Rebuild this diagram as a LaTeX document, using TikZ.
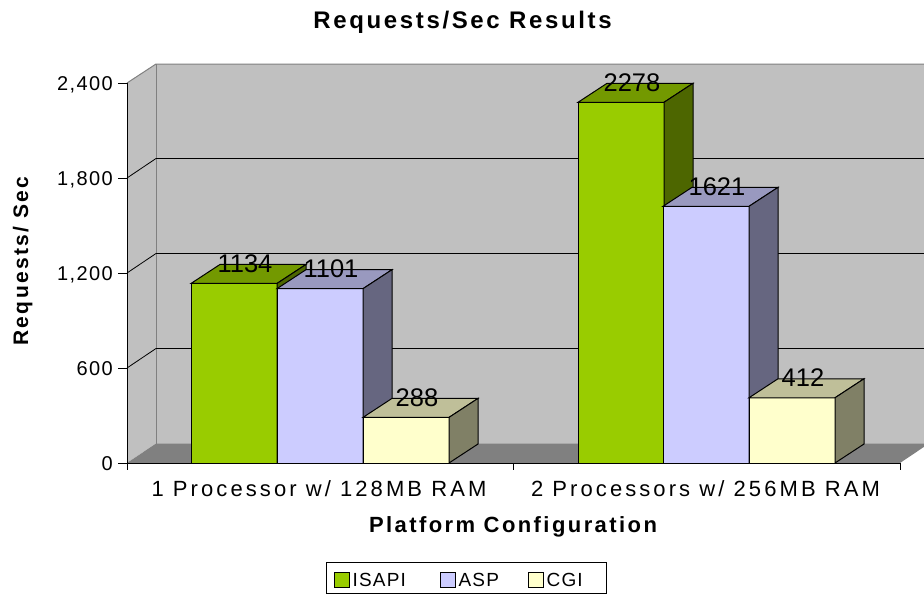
\documentclass[tikz,border=0pt]{standalone}
\usepackage{fontspec}
\setmainfont{Liberation Sans}
\newfontfamily\tickfont[LetterSpace=7]{Liberation Sans}
\newfontfamily\catfont[LetterSpace=14]{Liberation Sans}
\newfontfamily\headfont[LetterSpace=11]{Liberation Sans}
\newfontfamily\legfont[LetterSpace=6]{Liberation Sans}
\usetikzlibrary{positioning}
\definecolor{wallgray}{HTML}{C0C0C0}
\definecolor{floorgray}{HTML}{808080}
\definecolor{isapiF}{HTML}{99CC00}
\definecolor{isapiT}{HTML}{739900}
\definecolor{isapiS}{HTML}{4D6600}
\definecolor{aspF}{HTML}{CCCCFF}
\definecolor{aspT}{HTML}{9999BF}
\definecolor{aspS}{HTML}{666680}
\definecolor{cgiF}{HTML}{FFFFCC}
\definecolor{cgiT}{HTML}{BFBF99}
\definecolor{cgiS}{HTML}{808066}
\tikzstyle{barline}=[draw=black, line width=1pt]
\tikzstyle{grid line}=[black, line width=0.8pt]
\tikzstyle{wall edge}=[floorgray, line width=1pt]
\tikzstyle{axis line}=[black, line width=1pt]
\tikzstyle{tick label}=[anchor=east, inner sep=0pt, text height=14pt, text depth=0pt, font=\tickfont\fontsize{20}{24}\selectfont]
\tikzstyle{data label}=[inner sep=0pt, text height=18pt, text depth=0pt, font=\fontsize{25.5}{30}\selectfont]
\tikzstyle{cat label}=[anchor=base, inner sep=0pt, font=\catfont\fontsize{22}{26}\selectfont]
\tikzstyle{head label}=[anchor=base, inner sep=0pt, font=\headfont\bfseries\fontsize{22}{26}\selectfont]
\tikzstyle{leg key}=[draw=black, line width=1pt, minimum size=15pt, inner sep=0pt]
\tikzstyle{leg text}=[inner sep=0pt, text height=13.6pt, text depth=0pt, font=\legfont\fontsize{19}{23}\selectfont]
% one 3d bar: left x, value, colour prefix
\newcommand{\drawbar}[3]{%
  \pgfmathsetmacro{\yt}{463-#2/600*95}
  \filldraw[barline, fill=#3F] (#1,463) rectangle (#1+86,\yt);
  \filldraw[barline, fill=#3T] (#1,\yt) -- ++(29,-19) -- ++(86,0) -- ++(-29,19) -- cycle;
  \filldraw[barline, fill=#3S] (#1+86,463) -- ++(29,-19) -- (#1+115,\yt-19) -- (#1+86,\yt) -- cycle;
  \node[data label] at (#1+54,\yt-20) {#2};
}

\begin{document}
\begin{tikzpicture}[x=1pt, y=-1pt]
\useasboundingbox (0,0) rectangle (924,595);
\begin{scope}
\clip (0,0) rectangle (924,595);
% walls and floor
\fill[wallgray] (156,64) rectangle (929,443.5);
\fill[wallgray] (127,83) -- (156,64) -- (156,443.5) -- (127,463) -- cycle;
\fill[floorgray] (127,463) -- (156,443.5) -- (929,443.5) -- (900,463) -- cycle;
\draw[wall edge] (127,83) -- (156,64) -- (929,64);
\draw[wall edge] (156,64) -- (156,443.5);
\foreach \v in {600,1200,1800} {
  \pgfmathsetmacro{\yf}{463-\v/600*95}
  \draw[grid line] (127,\yf) -- (156,\yf-19.5) -- (929,\yf-19.5);
}
% bars
\drawbar{191}{1134}{isapi}
\drawbar{277}{1101}{asp}
\drawbar{363}{288}{cgi}
\drawbar{578}{2278}{isapi}
\drawbar{663}{1621}{asp}
\drawbar{749}{412}{cgi}
\end{scope}
% axes
\draw[axis line] (127,83) -- (127,470);
\draw[axis line] (127,463) -- (900,463);
\foreach \x in {513,900}
  \draw[axis line] (\x,463) -- (\x,470);
\foreach \v/\t in {0/0,600/600,1200/{1,200},1800/{1,800},2400/{2,400}} {
  \pgfmathsetmacro{\yf}{463-\v/600*95}
  \draw[axis line] (118,\yf) -- (127,\yf);
  \node[tick label] at (113,\yf) {\t};
}
% labels
\node[head label, font=\headfont\bfseries\fontsize{24}{28}\selectfont] (title) at (462.5,28) {Requests/Sec Results};
\node[cat label] (cat1) at (319,496.5) {1 Processor w/ 128MB RAM};
\node[cat label] (cat2) at (705.5,496.5) {2 Processors w/ 256MB RAM};
\node[head label] (xlabel) at (513,532.7) {Platform Configuration};
\node[head label, rotate=90, font=\headfont\bfseries\fontsize{21}{25}\selectfont] (ylabel) at (28,261) {Requests/ Sec};
% legend
\draw[axis line] (326,562.3) rectangle (606,593.3);
\node[leg key, fill=isapiF] (kisapi) at (341.5,579.5) {};
\node[leg text, right=3pt of kisapi] (tisapi) {ISAPI};
\node[leg key, fill=aspF] (kasp) at (447.5,579.5) {};
\node[leg text, right=3pt of kasp] (tasp) {ASP};
\node[leg key, fill=cgiF] (kcgi) at (535.5,579.5) {};
\node[leg text, right=3pt of kcgi] (tcgi) {CGI};
\end{tikzpicture}
\end{document}
